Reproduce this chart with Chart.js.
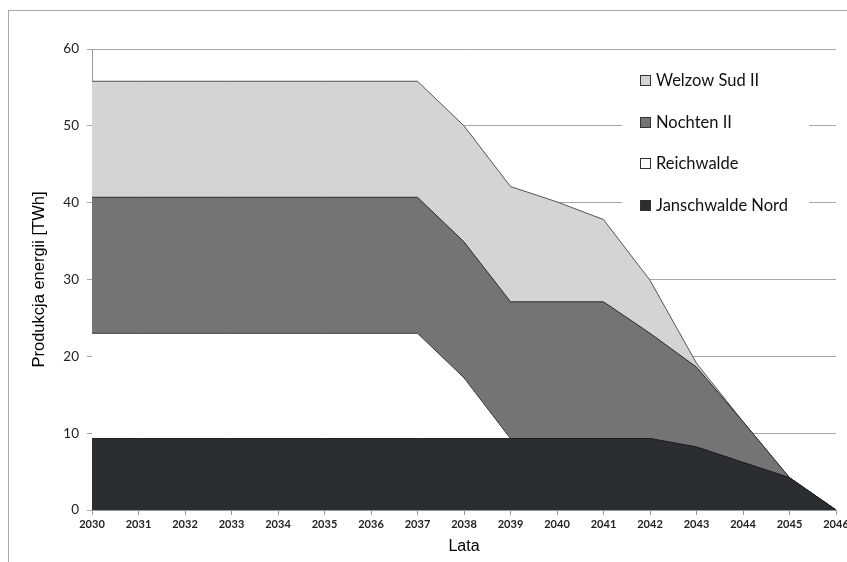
<!DOCTYPE html>
<html><head><meta charset="utf-8">
<script src="https://cdn.jsdelivr.net/npm/chart.js@4"></script>
<style>
html,body{margin:0;padding:0;overflow:hidden;background:#fff;width:847px;height:562px}
#frame{position:absolute;left:8px;top:10px;width:900px;height:600px;border-left:1px solid #a8a8a8;border-top:1px solid #a8a8a8}
#c{position:absolute;left:0;top:0}
</style></head><body>
<div id="frame"></div>
<canvas id="c" width="880" height="562"></canvas>
<script>
const years = ['2030','2031','2032','2033','2034','2035','2036','2037','2038','2039','2040','2041','2042','2043','2044','2045','2046'];
const janschwalde = [9.3,9.3,9.3,9.3,9.3,9.3,9.3,9.3,9.3,9.3,9.3,9.3,9.3,8.2,6.2,4.2,0];
const reichwalde  = [13.7,13.7,13.7,13.7,13.7,13.7,13.7,13.7,7.9,0,0,0,0,0,0,0,0];
const nochten     = [17.7,17.7,17.7,17.7,17.7,17.7,17.7,17.7,17.7,17.8,17.8,17.8,13.7,10.4,5.3,0,0];
const welzow      = [15.1,15.1,15.1,15.1,15.1,15.1,15.1,15.1,15.1,15.0,13.0,10.7,6.9,0.5,0,0,0];
const yTicks = [0,10,20,30,40,50,60];

const legendPlugin = {
  id:'boxLegend',
  beforeDatasetsDraw(chart){
    const ctx = chart.ctx;
    ctx.save();
    ctx.fillStyle='#fff';
    ctx.fillRect(622,56,187,168);
    const ds = chart.data.datasets.slice().reverse();
    ctx.font = '16.5px Lato';
    ctx.textBaseline='middle';
    ds.forEach((d,i)=>{
      const y = Math.round(81 + i*41.5);
      ctx.fillStyle = d.backgroundColor;
      ctx.fillRect(640.5, y-5.5, 10, 10);
      ctx.strokeStyle='#333'; ctx.lineWidth=1;
      ctx.strokeRect(640.5, y-5.5, 10, 10);
      ctx.fillStyle='#111';
      ctx.fillText(d.label, 656, y);
    });
    ctx.restore();
  }
};

new Chart(document.getElementById('c'), {
  type:'line',
  data:{labels:years, datasets:[
    {label:'Janschwalde Nord', data:janschwalde, backgroundColor:'#2b2e31', borderColor:'#1e1e1e', fill:'origin'},
    {label:'Reichwalde', data:reichwalde, backgroundColor:'#ffffff', borderColor:'#333', fill:'-1'},
    {label:'Nochten II', data:nochten, backgroundColor:'#737476', borderColor:'#2a2a2a', fill:'-1'},
    {label:'Welzow Sud II', data:welzow, backgroundColor:'#d3d4d4', borderColor:'#555', fill:'-1'}
  ]},
  options:{
    responsive:false, animation:false, devicePixelRatio:1,
    layout:{padding:{top:49,right:44,left:0,bottom:0}},
    elements:{point:{radius:0}, line:{borderWidth:1, tension:0}},
    plugins:{legend:{display:false}, tooltip:{enabled:false}},
    scales:{
      x:{
        grid:{drawOnChartArea:false, tickLength:5, color:'#999'},
        border:{color:'#999'},
        ticks:{font:{family:'Lato', size:11, weight:'bold'}, color:'#222', padding:3, maxRotation:0, autoSkip:false},
        title:{display:true, text:'Lata', font:{family:'Liberation Sans', size:16}, color:'#000', padding:{top:0,bottom:6}},
        afterFit(s){ s.height = 52; }
      },
      y:{
        stacked:true, min:0, max:60,
        afterBuildTicks(s){ s.ticks = yTicks.map(v=>({value:v})); },
        ticks:{font:{family:'Lato', size:13.5}, color:'#222', padding:8},
        grid:{color:'#a6a6a6', tickLength:5},
        border:{color:'#999'},
        title:{display:true, text:'Produkcja energii [TWh]', font:{family:'Liberation Sans', size:16.5}, color:'#000', padding:{top:30,bottom:0}},
        afterFit(s){ s.width = 92; }
      }
    }
  },
  plugins:[legendPlugin]
});
</script>
</body></html>
